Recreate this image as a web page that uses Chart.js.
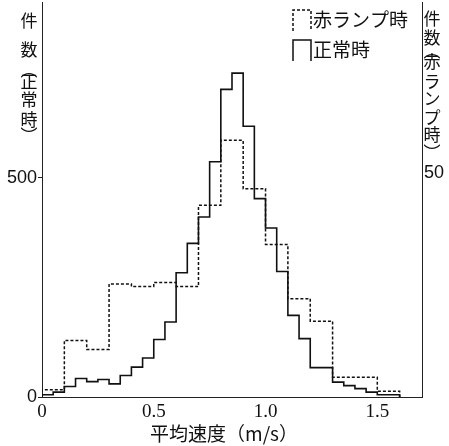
<!DOCTYPE html>
<html>
<head>
<meta charset="utf-8">
<script src="https://cdn.jsdelivr.net/npm/chart.js@4.4.1/dist/chart.umd.min.js"></script>
<style>
  body { margin: 0; background: #fff; }
  #wrap { width: 449px; height: 446px; }
</style>
</head>
<body>
<div id="wrap"><canvas id="speedChart"></canvas></div>
<script>
// Histogram bins (m/s)
let normalBinWidth = 0.05;
let redLampBinWidth = 0.1;

// Counts per bin, normal operation (left axis)
let normalCounts = [5, 11, 24, 42, 35, 40, 30, 49, 68, 89, 131, 171, 283, 350, 410, 536,
  701, 738, 617, 452, 385, 286, 186, 133, 67, 67, 34, 26, 19, 11, 5, 5];
// Counts per bin, red lamp on (right axis)
let redLampCounts = [1.6, 12.6, 10.6, 25.2, 24.6, 25.5, 24.6, 42.7, 57.2, 46.4, 34, 21.9,
  16.9, 4.4, 4.4, 1.3];

let speedTicks = [0, 0.5, 1.0, 1.5];
let normalTicks = [0, 500];
let redLampTicks = [50];

// turn bin counts into step points: start at zero, one point per bin edge, back to zero
function stepPoints(counts, width) {
  let pts = [{ x: 0, y: 0 }];
  counts.forEach((c, i) => pts.push({ x: +(i * width).toFixed(2), y: c }));
  pts.push({ x: +(counts.length * width).toFixed(2), y: 0 });
  return pts;
}

// keep the plot reaching the top edge: no room reserved for the top tick label
function noVerticalPadding(s) {
  s.paddingTop = 0;
  s.paddingBottom = 0;
}

// vertical titles, legend and x title
let textPlugin = {
  id: "texts",
  afterDraw(chart) {
    let ctx = chart.ctx;
    ctx.save();
    ctx.fillStyle = "#111";
    ctx.textAlign = "center";
    ctx.textBaseline = "middle";
    ctx.font = "17px 'Noto Sans CJK JP'";

    let leftTitle = [["件", 21], ["数", 50], ["︵", 70], ["正", 82], ["常", 100], ["時", 120], ["︶", 136]];
    leftTitle.forEach(([ch, y]) => ctx.fillText(ch, 29, y));
    let rightTitle = [["件", 19], ["数", 38], ["︵", 51], ["赤", 62], ["ラ", 82], ["ン", 99], ["プ", 118], ["時", 135], ["︶", 153]];
    rightTitle.forEach(([ch, y]) => ctx.fillText(ch, 432, y));

    // x axis title
    ctx.font = "19px 'Noto Sans CJK JP'";
    ctx.fillText("平均速度（m/s）", 224, 434);

    // legend with open boxes
    let items = [
      { label: "赤ランプ時", dash: [3, 2], y: 20 },
      { label: "正常時", dash: [], y: 50 },
    ];
    ctx.textAlign = "left";
    ctx.font = "19px 'Noto Sans CJK JP'";
    items.forEach((it) => {
      ctx.strokeStyle = "#111";
      ctx.lineWidth = 1.5;
      ctx.setLineDash(it.dash);
      ctx.beginPath();
      ctx.moveTo(293, it.y + 11);
      ctx.lineTo(293, it.y - 10);
      ctx.lineTo(311, it.y - 10);
      ctx.lineTo(311, it.y + 11);
      ctx.stroke();
      ctx.setLineDash([]);
      ctx.fillText(it.label, 313, it.y);
    });
    ctx.restore();
  },
};

let ctx = document.getElementById("speedChart").getContext("2d");
let speedChart = new Chart(ctx, {
  type: "line",
  data: {
    datasets: [
      {
        label: "赤ランプ時",
        data: stepPoints(redLampCounts, redLampBinWidth),
        yAxisID: "y2",
        borderColor: "#111",
        borderWidth: 1.5,
        borderDash: [3, 2],
        stepped: "before",
        pointRadius: 0,
        fill: false,
      },
      {
        label: "正常時",
        data: stepPoints(normalCounts, normalBinWidth),
        yAxisID: "y",
        borderColor: "#111",
        borderWidth: 1.6,
        stepped: "before",
        pointRadius: 0,
        fill: false,
      },
    ],
  },
  options: {
    responsive: true,
    maintainAspectRatio: false,
    animation: false,
    layout: { padding: { top: 2 } },
    plugins: {
      legend: { display: false },
      tooltip: { enabled: false },
    },
    scales: {
      x: {
        type: "linear",
        min: 0,
        max: 1.7,
        afterBuildTicks: (s) => { s.ticks = speedTicks.map((v) => ({ value: v })); },
        afterFit: (s) => { s.height = 49; },
        grid: { display: false, drawTicks: false },
        border: { display: true, color: "#222", width: 1 },
        ticks: {
          padding: 4,
          color: "#111",
          font: { family: "'Liberation Serif'", size: 19 },
          callback: (v) => (v === 0 ? "0" : v.toFixed(1)),
        },
      },
      y: {
        position: "left",
        min: 0,
        max: 900,
        afterBuildTicks: (s) => { s.ticks = normalTicks.map((v) => ({ value: v })); },
        afterFit: (s) => { s.width = 42; noVerticalPadding(s); },
        grid: { drawOnChartArea: false, tickLength: 4, color: "#222" },
        border: { display: true, color: "#222", width: 1 },
        ticks: {
          padding: 1,
          color: "#111",
          font: { family: "'Liberation Sans'", size: 18 },
        },
      },
      y2: {
        position: "right",
        min: 0,
        max: 88,
        afterBuildTicks: (s) => { s.ticks = redLampTicks.map((v) => ({ value: v })); },
        afterFit: (s) => { s.width = 27; noVerticalPadding(s); },
        grid: { drawOnChartArea: false, drawTicks: false },
        border: { display: true, color: "#222", width: 1 },
        ticks: {
          padding: 2,
          color: "#111",
          font: { family: "'Liberation Sans'", size: 18 },
        },
      },
    },
  },
  plugins: [textPlugin],
});
</script>
</body>
</html>
